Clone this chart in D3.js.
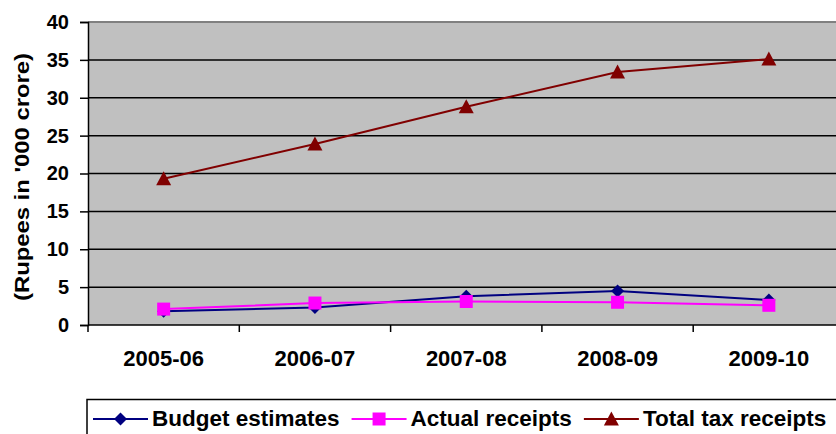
<!DOCTYPE html>
<html>
<head>
<meta charset="utf-8">
<script src="https://cdn.jsdelivr.net/npm/d3@7"></script>
<style>
  html, body { margin: 0; padding: 0; background: #fff; }
  svg { display: block; font-family: "Liberation Sans", Arial, sans-serif; font-weight: bold; }
</style>
</head>
<body>
<svg id="chart" width="836" height="434"></svg>
<script>
// Tax receipts by year (Rupees in '000 crore)
const years = ["2005-06", "2006-07", "2007-08", "2008-09", "2009-10"];
const budgetEstimates = [1.8, 2.3, 3.8, 4.5, 3.3];
const actualReceipts = [2.1, 2.9, 3.1, 3.0, 2.6];
const totalTaxReceipts = [19.3, 23.9, 28.8, 33.4, 35.1];
const yTicks = [0, 5, 10, 15, 20, 25, 30, 35, 40];
const seriesNames = ["Budget estimates", "Actual receipts", "Total tax receipts"];

const series = [
  { name: seriesNames[0], values: budgetEstimates, color: "#000080", marker: "diamond" },
  { name: seriesNames[1], values: actualReceipts, color: "#FF00FF", marker: "square" },
  { name: seriesNames[2], values: totalTaxReceipts, color: "#800000", marker: "triangle" }
];

const svg = d3.select("#chart");
const plot = { left: 88, right: 844.5, top: 22, bottom: 325 };

const x = d3.scaleBand().domain(years).range([plot.left, plot.right]).padding(0);
const y = d3.scaleLinear().domain([0, 40]).range([plot.bottom, plot.top]);

// plot background
svg.append("rect")
  .attr("x", plot.left).attr("y", plot.top)
  .attr("width", plot.right - plot.left).attr("height", plot.bottom - plot.top)
  .attr("fill", "#C0C0C0");

// horizontal gridlines
svg.append("g").selectAll("line")
  .data(yTicks.filter(t => t > 0 && t < 40))
  .join("line")
  .attr("x1", plot.left).attr("x2", plot.right)
  .attr("y1", d => y(d)).attr("y2", d => y(d))
  .attr("stroke", "#000").attr("stroke-width", 1.5);

// top border of plot area
svg.append("line")
  .attr("x1", plot.left).attr("x2", plot.right)
  .attr("y1", y(40)).attr("y2", y(40))
  .attr("stroke", "#808080").attr("stroke-width", 2);

// y axis
const yAxis = svg.append("g")
  .attr("transform", `translate(${plot.left},0)`)
  .call(d3.axisLeft(y).tickValues(yTicks).tickSize(8).tickPadding(11).tickFormat(d3.format("d")));
yAxis.select(".domain").attr("stroke", "#000").attr("stroke-width", 1.5);
yAxis.selectAll(".tick line").attr("stroke", "#000").attr("stroke-width", 1.5);
yAxis.selectAll(".tick text")
  .attr("font-family", "Liberation Sans, Arial, sans-serif")
  .attr("font-weight", "bold").attr("font-size", 20).attr("fill", "#000");

// x axis: ticks sit on the band boundaries, labels at band centres
const xAxisG = svg.append("g");
xAxisG.append("line")
  .attr("x1", plot.left).attr("x2", plot.right)
  .attr("y1", plot.bottom).attr("y2", plot.bottom)
  .attr("stroke", "#000").attr("stroke-width", 1.5);
xAxisG.selectAll("line.tick")
  .data(years)
  .join("line").attr("class", "tick")
  .attr("x1", d => x(d)).attr("x2", d => x(d))
  .attr("y1", plot.bottom).attr("y2", plot.bottom + 7)
  .attr("stroke", "#000").attr("stroke-width", 1.5);
xAxisG.selectAll("text")
  .data(years)
  .join("text")
  .attr("x", d => x(d) + x.bandwidth() / 2)
  .attr("y", 366)
  .attr("text-anchor", "middle")
  .attr("font-size", 22)
  .text(d => d);

// y axis title
svg.append("text")
  .attr("transform", `translate(29,177) rotate(-90)`)
  .attr("text-anchor", "middle")
  .attr("font-size", 21)
  .attr("textLength", 248)
  .attr("lengthAdjust", "spacingAndGlyphs")
  .text("(Rupees in '000 crore)");

// markers
function markerPath(type) {
  if (type === "diamond") return "M0,-6.5L6.5,0L0,6.5L-6.5,0Z";
  if (type === "square") return "M-6.5,-6.5H6.5V6.5H-6.5Z";
  return "M0,-7.5L7.5,6.5H-7.5Z";
}

const line = d3.line()
  .x((d, i) => x(years[i]) + x.bandwidth() / 2)
  .y(d => y(d));

series.forEach(s => {
  const g = svg.append("g");
  g.append("path")
    .attr("d", line(s.values))
    .attr("fill", "none")
    .attr("stroke", s.color)
    .attr("stroke-width", 2);
  g.selectAll("path.m")
    .data(s.values)
    .join("path").attr("class", "m")
    .attr("transform", (d, i) => `translate(${x(years[i]) + x.bandwidth() / 2},${y(d)})`)
    .attr("d", markerPath(s.marker))
    .attr("fill", s.color);
});

// legend
const legend = svg.append("g");
legend.append("rect")
  .attr("x", 87).attr("y", 399.5)
  .attr("width", 780).attr("height", 60)
  .attr("fill", "#fff").attr("stroke", "#000").attr("stroke-width", 1.5);

let lx = 93;
const ly = 419;
series.forEach(s => {
  const item = legend.append("g");
  item.append("line")
    .attr("x1", lx).attr("x2", lx + 55)
    .attr("y1", ly).attr("y2", ly)
    .attr("stroke", s.color).attr("stroke-width", 2);
  item.append("path")
    .attr("transform", `translate(${lx + 27.5},${ly})`)
    .attr("d", markerPath(s.marker))
    .attr("fill", s.color);
  const t = item.append("text")
    .attr("x", lx + 59).attr("y", 426)
    .attr("font-size", 22.5)
    .text(s.name);
  lx += 59 + t.node().getComputedTextLength() + 12;
});
</script>
</body>
</html>
